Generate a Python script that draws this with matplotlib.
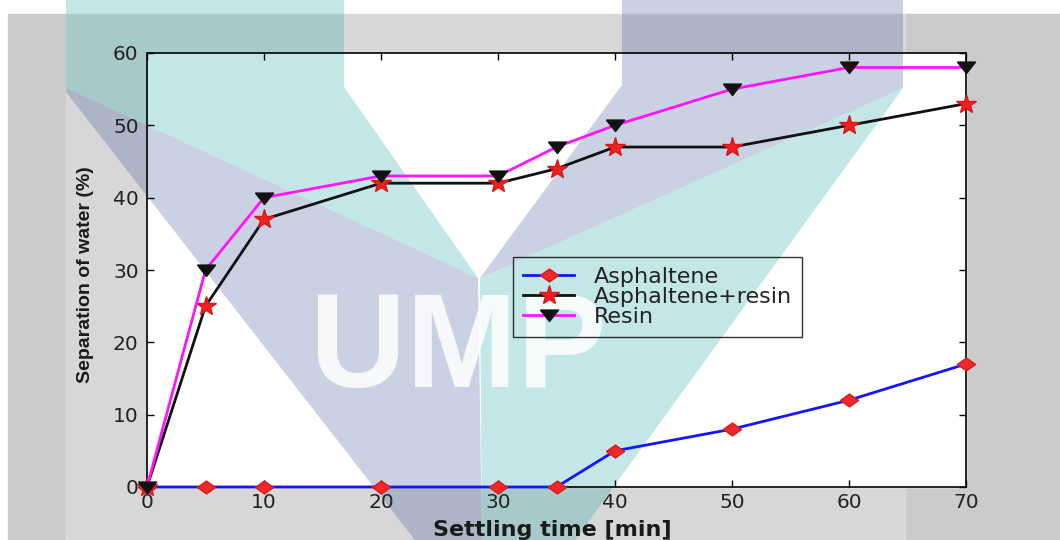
import matplotlib.pyplot as plt
from matplotlib.patches import Polygon, Rectangle

# settling time [min] and water separation [%]
time_min = [0, 5, 10, 20, 30, 35, 40, 50, 60, 70]
asphaltene = [0, 0, 0, 0, 0, 0, 5, 8, 12, 17]
asph_resin = [0, 25, 37, 42, 42, 44, 47, 47, 50, 53]
resin = [0, 30, 40, 43, 43, 47, 50, 55, 58, 58]
series_names = ['Asphaltene', 'Asphaltene+resin', 'Resin']

W, H = 1060, 540
fig = plt.figure(figsize=(W / 100, H / 100), dpi=100)


def fpx(pts):
    # pixel coords (y down) -> figure fraction
    return [(x / W, 1 - y / H) for x, y in pts]


def add_fig_patch(p):
    p.set_transform(fig.transFigure)
    fig.patches.append(p)


# gray window background, lighter strip behind the watermark, white plot area
add_fig_patch(Rectangle((8 / W, 0), 1, 1 - 14 / H, color='#cbcbcb', zorder=-3))
add_fig_patch(Rectangle((66 / W, 0), (905 - 66) / W, 1 - 14 / H, color='white',
                        alpha=0.24, zorder=-2.5))
ax_box = [147 / W, 1 - 487 / H, (966 - 147) / W, (487 - 53) / H]
add_fig_patch(Rectangle(ax_box[:2], ax_box[2], ax_box[3], color='white', zorder=-2))

# UMP watermark (sits under the lines and the legend text)
teal = (40 / 255, 170 / 255, 170 / 255)
lav = (69 / 255, 97 / 255, 159 / 255)
t1 = [(66, 0), (344, 0), (344, 87), (478, 278), (66, 88)]
l1 = [(66, 88), (478, 278), (482, 540), (415, 540), (66, 92)]
l2 = [(622, 0), (903, 0), (903, 88), (480, 278), (622, 85)]
t2 = [(903, 88), (480, 278), (482, 540), (575, 540)]
for poly, col, a in [(t1, teal, 0.28), (l1, lav, 0.29), (l2, lav, 0.29), (t2, teal, 0.28)]:
    add_fig_patch(Polygon(fpx(poly), closed=True, facecolor=col, edgecolor='none',
                          alpha=a, zorder=-1))
fig.text(310 / W, 1 - 387 / H, 'UMP', fontsize=96, fontweight='bold',
         family='Liberation Sans', color='white', alpha=0.85,
         ha='left', va='baseline', zorder=-0.5)

ax = fig.add_axes(ax_box)
ax.set_facecolor('none')

diamond = [(-1.4, 0), (0, 1), (1.4, 0), (0, -1), (-1.4, 0)]
tri_down = [(-1.5, 0.9), (1.5, 0.9), (0, -1), (-1.5, 0.9)]

ax.plot(time_min, asphaltene, color='#1414ff', lw=2, marker=diamond, ms=13,
        mfc='#f02828', mec='#d81c1c', clip_on=False, label=series_names[0], zorder=3)
ax.plot(time_min, asph_resin, color='#111111', lw=2, marker='*', ms=15,
        mfc='#f02020', mec='#d81818', clip_on=False, label=series_names[1], zorder=4)
ax.plot(time_min, resin, color='#ff14ff', lw=2, marker=tri_down, ms=13,
        mfc='#111111', mec='#111111', clip_on=False, label=series_names[2], zorder=5)

ax.set_xlim(0, 70)
ax.set_ylim(0, 60)
ax.set_xticks(range(0, 71, 10))
ax.set_yticks(range(0, 61, 10))
ax.tick_params(direction='in', length=5, width=1, top=True, right=True,
               labelsize=14.5, labelcolor='#222222')
ax.tick_params(axis='x', pad=4)
ax.tick_params(axis='y', pad=6)
for s in ax.spines.values():
    s.set_linewidth(1.2)
    s.set_color('black')

ax.set_xlabel('Settling time [min]', fontsize=16, fontweight='bold', color='#1a1a1a')
ax.xaxis.set_label_coords((552 - 147) / 819, -(520 - 487) / 434)
ax.set_ylabel('Separation of water (%)', fontsize=14, fontweight='bold',
              family='Liberation Sans', color='#1a1a1a')
ax.yaxis.set_label_coords(-(147 - 94) / 819, (487 - 275) / 434)

leg = ax.legend(loc='upper left', bbox_to_anchor=((513 - 147) / 819, (487 - 257) / 434),
                borderaxespad=0, fontsize=16, frameon=True, fancybox=False,
                facecolor='none', framealpha=None, edgecolor='black',
                handlelength=2.3, labelspacing=0.0, borderpad=0.45,
                handletextpad=0.9)
leg.get_frame().set_linewidth(1)
for t in leg.get_texts():
    t.set_color('#222222')

fig.savefig('out.png', dpi=100)
